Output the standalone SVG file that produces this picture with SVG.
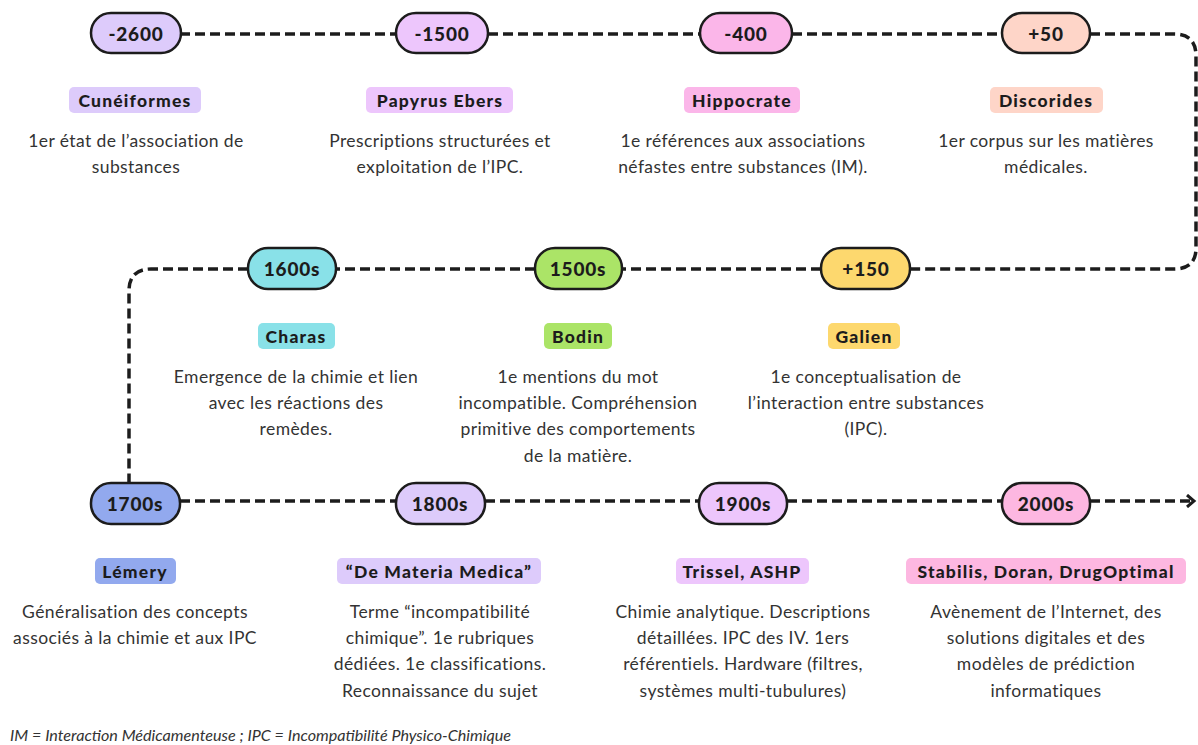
<svg xmlns="http://www.w3.org/2000/svg" width="1198" height="745" viewBox="0 0 1198 745">
<defs>
<style>
.pill{stroke:#1c1c1c;stroke-width:2.5}
.pt{font-family:Lato,"Liberation Sans",sans-serif;font-weight:900;font-size:19px;letter-spacing:0.8px;fill:#1c1c1c;text-anchor:middle;dominant-baseline:central}
.lt{font-family:Lato,"Liberation Sans",sans-serif;font-weight:900;font-size:17.5px;letter-spacing:1.2px;fill:#1c1c1c;text-anchor:middle;dominant-baseline:central}
.d{font-family:Lato,"Liberation Sans",sans-serif;font-size:17.5px;letter-spacing:0.4px;fill:#333;text-anchor:middle;dominant-baseline:central}
.c{fill:none;stroke:#1c1c1c;stroke-width:3.5;stroke-dasharray:10 5}
.fn{font-family:Lato,"Liberation Sans",sans-serif;font-style:italic;font-size:14.5px;fill:#333}
.lav{fill:#DDCBFB}.pur{fill:#EDC6FC}.pnk{fill:#FBB6E9}.pch{fill:#FED5C8}.cy{fill:#89E1E8}.gr{fill:#ABE467}.ye{fill:#FDD86E}.bl{fill:#92A9EE}.pk2{fill:#FDB7E1}
</style>
<marker id="arr" markerWidth="12" markerHeight="14" refX="9" refY="7" orient="auto" markerUnits="userSpaceOnUse">
<path d="M2 1 L9 7 L2 13" fill="none" stroke="#1c1c1c" stroke-width="3"/>
</marker>
</defs>
<g id="connectors">
<path class="c" d="M180 34 H396"/>
<path class="c" d="M488 34 H700"/>
<path class="c" d="M792 34 H1002"/>
<path class="c" d="M1090 34 H1174 Q1196 34 1196 56 V248 Q1196 269 1174 269 H910"/>
<path class="c" d="M821 269 H622"/>
<path class="c" d="M535 269 H335"/>
<path class="c" d="M248 269 H151 Q129 269 129 291 V483"/>
<path class="c" d="M180 501 H396"/>
<path class="c" d="M485 501 H699"/>
<path class="c" d="M787 501 H1002"/>
<path class="c" d="M1090 501 H1194" marker-end="url(#arr)"/>
</g>
<g id="n-2600"><rect class="pill lav" x="91" y="13" width="90" height="40" rx="20"/><text class="pt" x="136" y="33">-2600</text>
<rect class="lav" x="69" y="87" width="132" height="26" rx="5"/><text class="lt" x="135" y="100">Cunéiformes</text>
<text class="d" x="136" y="140">1er état de l’association de</text><text class="d" x="136" y="166">substances</text></g>
<g id="n-1500"><rect class="pill pur" x="396" y="13" width="92" height="40" rx="20"/><text class="pt" x="442" y="33">-1500</text>
<rect class="pur" x="366" y="87" width="147" height="26" rx="5"/><text class="lt" x="440" y="100">Papyrus Ebers</text>
<text class="d" x="440" y="140">Prescriptions structurées et</text><text class="d" x="440" y="166">exploitation de l’IPC.</text></g>
<g id="n-400"><rect class="pill pnk" x="700" y="13" width="92" height="40" rx="20"/><text class="pt" x="746" y="33">-400</text>
<rect class="pnk" x="684" y="87" width="116" height="26" rx="5"/><text class="lt" x="742" y="100">Hippocrate</text>
<text class="d" x="743" y="140">1e références aux associations</text><text class="d" x="743" y="166">néfastes entre substances (IM).</text></g>
<g id="n+50"><rect class="pill pch" x="1002" y="13" width="88" height="40" rx="20"/><text class="pt" x="1046" y="33">+50</text>
<rect class="pch" x="990" y="87" width="113" height="26" rx="5"/><text class="lt" x="1046" y="100">Discorides</text>
<text class="d" x="1046" y="140">1er corpus sur les matières</text><text class="d" x="1046" y="166">médicales.</text></g>
<g id="n1600s"><rect class="pill cy" x="248" y="248" width="88" height="41" rx="20"/><text class="pt" x="292" y="268">1600s</text>
<rect class="cy" x="258" y="323" width="77" height="26" rx="5"/><text class="lt" x="296" y="336">Charas</text>
<text class="d" x="296" y="376">Emergence de la chimie et lien</text><text class="d" x="296" y="402">avec les réactions des</text><text class="d" x="296" y="428">remèdes.</text></g>
<g id="n1500s"><rect class="pill gr" x="535" y="248" width="87" height="41" rx="20"/><text class="pt" x="578" y="268">1500s</text>
<rect class="gr" x="544" y="323" width="68" height="26" rx="5"/><text class="lt" x="578" y="336">Bodin</text>
<text class="d" x="578" y="376">1e mentions du mot</text><text class="d" x="578" y="402">incompatible. Compréhension</text><text class="d" x="578" y="428">primitive des comportements</text><text class="d" x="578" y="455">de la matière.</text></g>
<g id="n+150"><rect class="pill ye" x="821" y="248" width="89" height="41" rx="20"/><text class="pt" x="866" y="268">+150</text>
<rect class="ye" x="828" y="323" width="72" height="26" rx="5"/><text class="lt" x="864" y="336">Galien</text>
<text class="d" x="866" y="376">1e conceptualisation de</text><text class="d" x="866" y="402">l’interaction entre substances</text><text class="d" x="866" y="428">(IPC).</text></g>
<g id="n1700s"><rect class="pill bl" x="91" y="483" width="89" height="41" rx="20"/><text class="pt" x="135" y="503">1700s</text>
<rect class="bl" x="95" y="558" width="81" height="26" rx="5"/><text class="lt" x="135" y="571">Lémery</text>
<text class="d" x="135" y="611">Généralisation des concepts</text><text class="d" x="135" y="637">associés à la chimie et aux IPC</text></g>
<g id="n1800s"><rect class="pill lav" x="396" y="483" width="89" height="41" rx="20"/><text class="pt" x="440" y="503">1800s</text>
<rect class="lav" x="337" y="558" width="204" height="26" rx="5"/><text class="lt" x="439" y="571">“De Materia Medica”</text>
<text class="d" x="440" y="611">Terme “incompatibilité</text><text class="d" x="440" y="637">chimique”. 1e rubriques</text><text class="d" x="440" y="663">dédiées. 1e classifications.</text><text class="d" x="440" y="690">Reconnaissance du sujet</text></g>
<g id="n1900s"><rect class="pill pur" x="699" y="483" width="88" height="41" rx="20"/><text class="pt" x="743" y="503">1900s</text>
<rect class="pur" x="676" y="558" width="133" height="26" rx="5"/><text class="lt" x="742" y="571">Trissel, ASHP</text>
<text class="d" x="743" y="611">Chimie analytique. Descriptions</text><text class="d" x="743" y="637">détaillées. IPC des IV. 1ers</text><text class="d" x="743" y="663">référentiels. Hardware (filtres,</text><text class="d" x="743" y="690">systèmes multi-tubulures)</text></g>
<g id="n2000s"><rect class="pill pk2" x="1002" y="483" width="88" height="41" rx="20"/><text class="pt" x="1046" y="503">2000s</text>
<rect class="pk2" x="906" y="558" width="280" height="26" rx="5"/><text class="lt" x="1046" y="571">Stabilis, Doran, DrugOptimal</text>
<text class="d" x="1046" y="611">Avènement de l’Internet, des</text><text class="d" x="1046" y="637">solutions digitales et des</text><text class="d" x="1046" y="663">modèles de prédiction</text><text class="d" x="1046" y="690">informatiques</text></g>
<text class="fn" x="10" y="741" textLength="501" lengthAdjust="spacingAndGlyphs">IM = Interaction Médicamenteuse ; IPC = Incompatibilité Physico-Chimique</text>
</svg>
